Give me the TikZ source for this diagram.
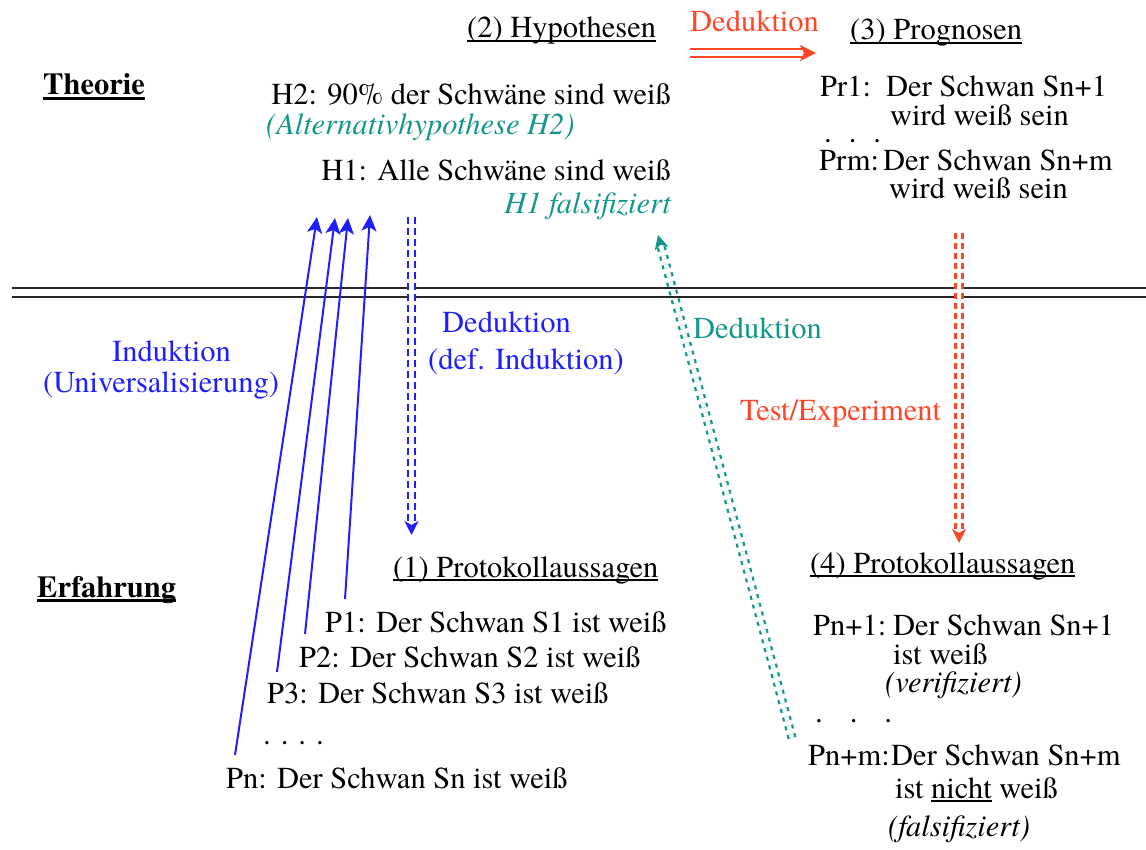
\documentclass[tikz,border=0pt]{standalone}
\usepackage{fontspec}
\setmainfont{TeX Gyre Termes}
\usetikzlibrary{arrows.meta}
\definecolor{myred}{RGB}{255,70,40}
\definecolor{myteal}{RGB}{20,150,140}
\definecolor{myblue}{RGB}{30,30,255}
\newsavebox\ulbox
\newcommand{\ulx}[1]{\sbox\ulbox{#1}\rlap{\rule[-0.14em]{\wd\ulbox}{0.06em}}\usebox\ulbox}
\newcommand{\ulxb}[1]{\sbox\ulbox{#1}\rlap{\rule[-0.17em]{\wd\ulbox}{0.09em}}\usebox\ulbox}
\begin{document}
\begin{tikzpicture}[x=1pt,y=-1pt,
  txt/.style={inner sep=0pt, anchor=base west, font=\fontsize{30.5}{36}\selectfont},
  txtr/.style={txt, anchor=base east},
  tred/.style={txt, text=myred},
  tblue/.style={txt, text=myblue},
  tteal/.style={txt, text=myteal},
  indarrow/.style={myblue, line width=2pt, -{Stealth[length=16pt,width=15pt,inset=4pt]}},
  dblarrow/.style={line width=2.3pt, double distance=4.5pt, -{Stealth[length=14pt,width=14pt,inset=4pt]}},
  sepline/.style={black!85, line width=1.8pt}
]
\useasboundingbox (0,0) rectangle (1146,850);

% separator
\coordinate (sl1) at (12,288); \coordinate (sr1) at (1146,288);
\coordinate (sl2) at (12,297); \coordinate (sr2) at (1146,297);
\draw[sepline] (sl1) -- (sr1);
\draw[sepline] (sl2) -- (sr2);

% left labels
\node[txt] (theorie) at (43,95) {\bfseries\ulxb{Theorie}};
\node[txt] (erfahrung) at (37,597) {\bfseries\ulxb{Erfahrung}};

% top
\node[txt] (hyp) at (467,38) {\ulx{(2) Hypothesen}};
\node[tred] (dedred) at (690,32) {Deduktion};
\node[txt] (prog) at (850,40) {\ulx{(3) Prognosen}};

\node[txtr] (h2) at (671,105) {H2: 90\% der Schwäne sind weiß};
\node[tteal] (alt) at (266,135) {\itshape (Alternativhypothese H2)};
\node[txtr] (h1) at (671,181) {H1: Alle Schwäne sind weiß};
\node[txtr, text=myteal] (h1f) at (671,214) {\itshape H1 falsifiziert};

\node[txt] (pr1) at (820,97) {Pr1:};
\node[txt] (pr1t) at (886,97) {Der Schwan Sn+1};
\node[txt] (pr1w) at (890,126) {wird weiß sein};
\node[txt] (prdots) at (824,143) {.\hspace{17pt}.\hspace{17pt}.};
\node[txt] (prm) at (819,171) {Prm:};
\node[txt] (prmt) at (883,171) {Der Schwan Sn+m};
\node[txt] (prmw) at (889,199) {wird weiß sein};

% middle labels
\node[tblue] (indu) at (112,362) {Induktion};
\node[tblue] (univ) at (43,392) {(Universalisierung)};
\node[tblue] (dedblue) at (442,333) {Deduktion};
\node[tblue] (defind) at (428,370) {(def. Induktion)};
\node[tteal] (dedteal) at (693,338) {Deduktion};
\node[tred] (test) at (740,420) {Test/Experiment};

% bottom left
\node[txt] (prot1) at (393,577) {\ulx{(1) Protokollaussagen}};
\node[txt] (p1) at (325,632) {P1: Der Schwan S1 ist weiß};
\node[txt] (p2) at (299,667) {P2: Der Schwan S2 ist weiß};
\node[txt] (p3) at (267,703) {P3: Der Schwan S3 ist weiß};
\node[txt] (pdots) at (263,744) {.\hspace{10pt}.\hspace{10pt}.\hspace{10pt}.};
\node[txt] (pn) at (226,788) {Pn: Der Schwan Sn ist weiß};

% bottom right
\node[txt] (prot4) at (810,573) {\ulx{(4) Protokollaussagen}};
\node[txt] (pn1) at (813,635) {Pn+1:};
\node[txt] (pn1t) at (893,635) {Der Schwan Sn+1};
\node[txt] (pn1w) at (893,664) {ist weiß};
\node[txt] (verif) at (885,692) {\itshape (verifiziert)};
\node[txt] (pn1dots) at (815,722) {.\hspace{27pt}.\hspace{27pt}.};
\node[txt] (pnm) at (808,765) {Pn+m:};
\node[txt] (pnmt) at (891,765) {Der Schwan Sn+m};
\node[txt] (pnmw) at (895,798) {ist \ulx{nicht} weiß};
\node[txt] (falsi) at (888,836) {\itshape (falsifiziert)};

% induction arrows
\coordinate (b1s) at (235,755); \coordinate (b1e) at (317,217);
\coordinate (b2s) at (277,672); \coordinate (b2e) at (335,218);
\coordinate (b3s) at (305,634); \coordinate (b3e) at (348,218);
\coordinate (b4s) at (345,599); \coordinate (b4e) at (370,215);
\draw[indarrow] (b1s) -- (b1e);
\draw[indarrow] (b2s) -- (b2e);
\draw[indarrow] (b3s) -- (b3e);
\draw[indarrow] (b4s) -- (b4e);

% deduction (blue dashed)
\coordinate (dbs) at (411.5,217); \coordinate (dbe) at (411.5,535);
\draw[dblarrow, myblue, dash pattern=on 7pt off 4pt] (dbs) -- (dbe);

% deduction (teal dotted)
\coordinate (dts) at (792,738); \coordinate (dte) at (658,235);
\draw[dblarrow, myteal, dash pattern=on 4pt off 5pt] (dts) -- (dte);

% test (red dashed)
\coordinate (drs) at (959,233); \coordinate (dre) at (959,543);
\draw[dblarrow, myred, dash pattern=on 6pt off 4pt] (drs) -- (dre);

% top deduction arrow
\coordinate (tds) at (690,53); \coordinate (tde) at (816,53);
\draw[myred, line width=2.2pt, double distance=6.5pt, -{Stealth[length=16pt,width=16pt,inset=4pt]}] (tds) -- (tde);
\end{tikzpicture}
\end{document}
